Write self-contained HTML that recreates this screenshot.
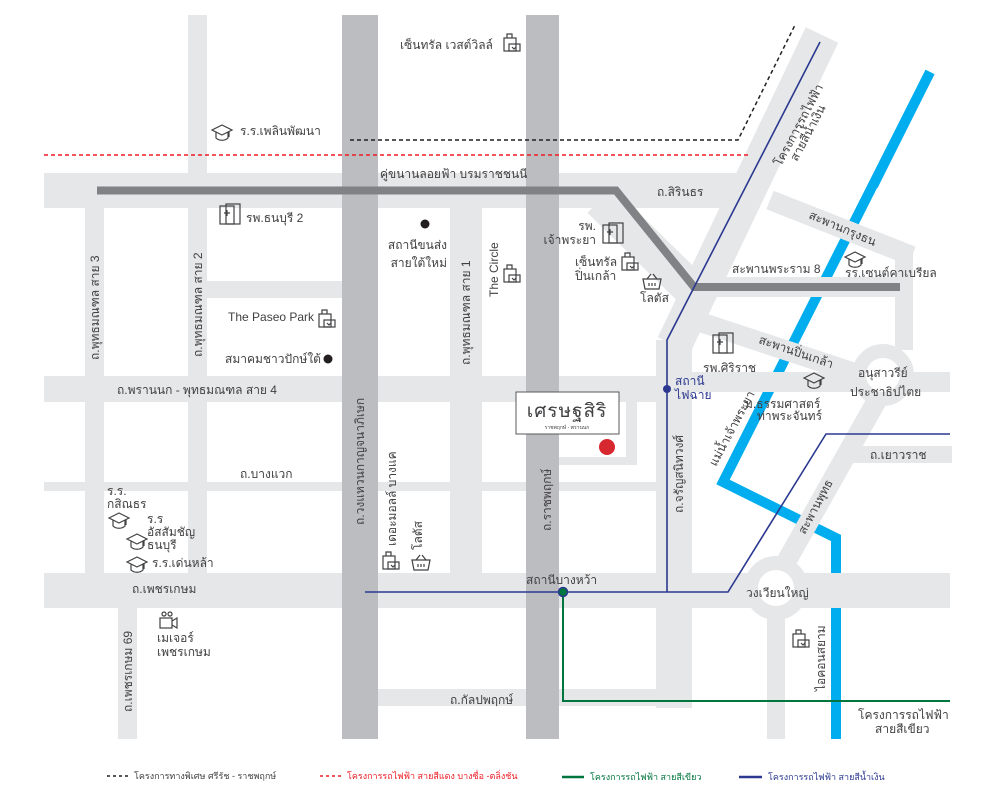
<!DOCTYPE html>
<html><head><meta charset="utf-8"><style>
html,body{margin:0;padding:0;background:#fff;}
svg{display:block;}
text{font-family:"Liberation Sans","Noto Sans CJK SC",sans-serif;fill:#414042;font-size:12px;}
.r{fill:#e6e7e8;}
.ic{fill:none;stroke:#414042;stroke-width:1.2;}
</style></head><body>
<svg width="1004" height="803" viewBox="0 0 1004 803" xmlns="http://www.w3.org/2000/svg">
<defs>
<g id="hosp"><rect x="0" y="2" width="14" height="18" class="ic"/><rect x="6" y="0" width="14" height="20" class="ic" fill="#fff"/><path d="M4 9h6M7 6v6" class="ic"/></g>
<g id="bag"><rect x="0" y="5" width="12" height="13" class="ic"/><rect x="5" y="11" width="11" height="7" class="ic" fill="#fff"/><path d="M3 5v-4h5v4M8 14l2 2 2-2" class="ic"/></g>
<g id="cap"><path d="M0 6l10-5 10 5-10 5z M4 8v6c3 3 9 3 12 0v-6 M17 7v6" class="ic"/></g>
<g id="bask"><path d="M0 5h18l-2 10h-14z M4 5l4-5 M14 5l-4-5 M6 9v3M9 9v3M12 9v3" class="ic"/></g>
</defs>

<polyline points="930,72 723,482 836,538 836,739" fill="none" stroke="#00aeef" stroke-width="10"/>

<g class="r">
<rect x="44" y="173" width="700" height="35"/>
<rect x="188" y="15" width="19" height="558"/>
<rect x="85" y="208" width="19" height="365"/>
<rect x="207" y="281" width="135" height="17"/>
<rect x="44" y="376" width="612" height="26"/>
<rect x="450" y="208" width="32" height="365"/>
<rect x="44" y="482" width="612" height="9"/>
<rect x="44" y="573" width="906" height="35"/>
<rect x="118" y="608" width="19" height="131"/>
<rect x="378" y="689" width="278" height="17"/>
<rect x="656" y="340" width="36" height="368"/>
<rect x="626" y="402" width="11" height="63"/>
<rect x="559" y="457" width="78" height="8"/>
<rect x="692" y="372" width="258" height="20"/>
<rect x="690" y="277" width="210" height="20"/>
<rect x="895" y="250" width="18" height="100"/>
<rect x="845" y="446" width="107" height="17"/>
<rect x="767" y="608" width="18" height="131"/>
</g>
<g fill="none" stroke="#e6e7e8">
<line x1="674" y1="345" x2="822" y2="35" stroke-width="36"/>
<line x1="600" y1="200" x2="694" y2="292" stroke-width="36"/>
<line x1="700" y1="322" x2="870" y2="378" stroke-width="20"/>
<line x1="770" y1="200" x2="912" y2="256" stroke-width="20"/>
<line x1="880" y1="395" x2="776" y2="580" stroke-width="20"/>
<circle cx="883" cy="375" r="24" stroke-width="14"/>
<circle cx="776" cy="588" r="25" stroke-width="14"/>
</g>
<circle cx="883" cy="375" r="17" fill="#fff"/>
<circle cx="776" cy="588" r="18" fill="#fff"/>

<line x1="930" y1="72" x2="873" y2="186" stroke="#00aeef" stroke-width="10"/>

<rect x="342" y="15" width="36" height="724" fill="#bcbdc0"/>
<rect x="526" y="15" width="33" height="724" fill="#bcbdc0"/>

<polyline points="97,190.5 616,190.5 694,287 900,287" fill="none" stroke="#808285" stroke-width="8"/>

<line x1="44" y1="155" x2="750" y2="155" stroke="#ed1c24" stroke-width="1.5" stroke-dasharray="4,3"/>
<polyline points="350,140 738,140 795,25" fill="none" stroke="#231f20" stroke-width="1.5" stroke-dasharray="4,3"/>

<polyline points="820,42 667,340 667,592" fill="none" stroke="#2b3990" stroke-width="1.6"/>
<polyline points="365,592 728,592 826,434 950,434" fill="none" stroke="#2b3990" stroke-width="1.6"/>
<polyline points="563,592 563,701 950,701" fill="none" stroke="#00753e" stroke-width="2"/>
<circle cx="667" cy="389" r="4" fill="#2b3990"/>
<circle cx="563" cy="592" r="4.5" fill="#00753e" stroke="#2b3990" stroke-width="1.5"/>

<rect x="516" y="392" width="103" height="42" fill="#fff" stroke="#58595b" stroke-width="1"/>
<text x="567" y="417" text-anchor="middle" style="font-size:19px;letter-spacing:1px">เศรษฐสิริ</text>
<text x="567" y="429" text-anchor="middle" style="font-size:5px">ราชพฤกษ์ - พรานนก</text>
<circle cx="607" cy="447" r="8" fill="#d7282f"/>
<circle cx="425" cy="224" r="4.5" fill="#231f20"/>
<circle cx="328" cy="359" r="4.5" fill="#231f20"/>

<use href="#bag" x="504" y="33"/>
<use href="#cap" x="212" y="124"/>
<use href="#hosp" x="220" y="204"/>
<use href="#bag" x="504" y="264"/>
<use href="#bag" x="319" y="309"/>
<use href="#hosp" x="603" y="223"/>
<use href="#bag" x="622" y="252"/>
<use href="#bask" x="643" y="274"/>
<use href="#cap" x="845" y="251"/>
<use href="#hosp" x="713" y="333"/>
<use href="#cap" x="804" y="372"/>
<use href="#cap" x="109" y="512"/>
<use href="#cap" x="127" y="533"/>
<use href="#cap" x="127" y="556"/>
<use href="#bag" x="383" y="551"/>
<use href="#bask" x="412" y="555"/>
<use href="#bag" x="793" y="629"/>
<g class="ic"><circle cx="164" cy="614" r="2"/><circle cx="170" cy="614" r="2"/><rect x="160" y="618" width="12" height="10"/><path d="M172 621l5-3v10l-5-3"/></g>

<text x="400" y="49">เซ็นทรัล เวสต์วิลล์</text>
<text x="240" y="135">ร.ร.เพลินพัฒนา</text>
<text x="380" y="178">คู่ขนานลอยฟ้า บรมราชชนนี</text>
<text x="657" y="196">ถ.สิรินธร</text>
<text x="246" y="222">รพ.ธนบุรี 2</text>
<text x="447" y="249" text-anchor="end">สถานีขนส่ง</text>
<text x="447" y="267" text-anchor="end">สายใต้ใหม่</text>
<text x="596" y="230" text-anchor="end">รพ.</text>
<text x="596" y="244" text-anchor="end">เจ้าพระยา</text>
<text x="575" y="266">เซ็นทรัล</text>
<text x="575" y="280">ปิ่นเกล้า</text>
<text x="640" y="302">โลตัส</text>
<text x="732" y="273">สะพานพระราม 8</text>
<text x="845" y="277">รร.เซนต์คาเบรียล</text>
<text x="228" y="321">The Paseo Park</text>
<text x="225" y="363">สมาคมชาวปักษ์ใต้</text>
<text x="117" y="394">ถ.พรานนก - พุทธมณฑล สาย 4</text>
<text x="240" y="478">ถ.บางแวก</text>
<text x="107" y="495">ร.ร.</text>
<text x="107" y="508">กสิณธร</text>
<text x="147" y="523">ร.ร</text>
<text x="147" y="536">อัสสัมชัญ</text>
<text x="147" y="549">ธนบุรี</text>
<text x="152" y="567">ร.ร.เด่นหล้า</text>
<text x="132" y="593">ถ.เพชรเกษม</text>
<text x="157" y="642">เมเจอร์</text>
<text x="157" y="656">เพชรเกษม</text>
<text x="450" y="704">ถ.กัลปพฤกษ์</text>
<text x="526" y="584">สถานีบางหว้า</text>
<text x="746" y="597">วงเวียนใหญ่</text>
<text x="703" y="372">รพ.ศิริราช</text>
<text x="745" y="408">ม.ธรรมศาสตร์</text>
<text x="757" y="420">ท่าพระจันทร์</text>
<text x="858" y="377">อนุสาวรีย์</text>
<text x="850" y="396">ประชาธิปไตย</text>
<text x="870" y="459">ถ.เยาวราช</text>
<text x="675" y="385" style="fill:#2b3990">สถานี</text>
<text x="675" y="399" style="fill:#2b3990">ไฟฉาย</text>
<text x="858" y="719">โครงการรถไฟฟ้า</text>
<text x="875" y="733">สายสีเขียว</text>

<text transform="translate(99,360) rotate(-90)">ถ.พุทธมณฑล สาย 3</text>
<text transform="translate(202,357) rotate(-90)">ถ.พุทธมณฑล สาย 2</text>
<text transform="translate(470,365) rotate(-90)">ถ.พุทธมณฑล สาย 1</text>
<text transform="translate(498,297) rotate(-90)">The Circle</text>
<text transform="translate(364,525) rotate(-90)">ถ.วงแหวนกาญจนาภิเษก</text>
<text transform="translate(396,546) rotate(-90)">เดอะมอลล์ บางแค</text>
<text transform="translate(422,550) rotate(-90)">โลตัส</text>
<text transform="translate(551,531) rotate(-90)">ถ.ราชพฤกษ์</text>
<text transform="translate(683,513) rotate(-90)">ถ.จรัญสนิทวงศ์</text>
<text transform="translate(132,712) rotate(-90)">ถ.เพชรเกษม 69</text>
<text transform="translate(825,691) rotate(-90)">ไอคอนสยาม</text>
<text transform="translate(781,167) rotate(-62)">โครงการรถไฟฟ้า</text>
<text transform="translate(797,162) rotate(-62)">สายสีน้ำเงิน</text>
<text transform="translate(808,218) rotate(23)">สะพานกรุงธน</text>
<text transform="translate(758,343) rotate(19)">สะพานปิ่นเกล้า</text>
<text transform="translate(716,467) rotate(-62)">แม่น้ำเจ้าพระยา</text>
<text transform="translate(805,535) rotate(-62)">สะพานพุทธ</text>

<line x1="107" y1="776" x2="128" y2="776" stroke="#231f20" stroke-width="1.5" stroke-dasharray="3,3"/>
<text x="134" y="779" style="font-size:9px">โครงการทางพิเศษ ศรีรัช - ราชพฤกษ์</text>
<line x1="320" y1="776" x2="341" y2="776" stroke="#ed1c24" stroke-width="1.5" stroke-dasharray="3,3"/>
<text x="347" y="779" style="font-size:9px;fill:#ed1c24">โครงการรถไฟฟ้า สายสีแดง บางซื่อ -ตลิ่งชัน</text>
<line x1="562" y1="777" x2="584" y2="777" stroke="#00753e" stroke-width="2.5"/>
<text x="590" y="780" style="font-size:9px;fill:#00753e">โครงการรถไฟฟ้า สายสีเขียว</text>
<line x1="739" y1="777" x2="762" y2="777" stroke="#2b3990" stroke-width="2.5"/>
<text x="768" y="780" style="font-size:9px;fill:#2b3990">โครงการรถไฟฟ้า สายสีน้ำเงิน</text>
</svg>
</body></html>
